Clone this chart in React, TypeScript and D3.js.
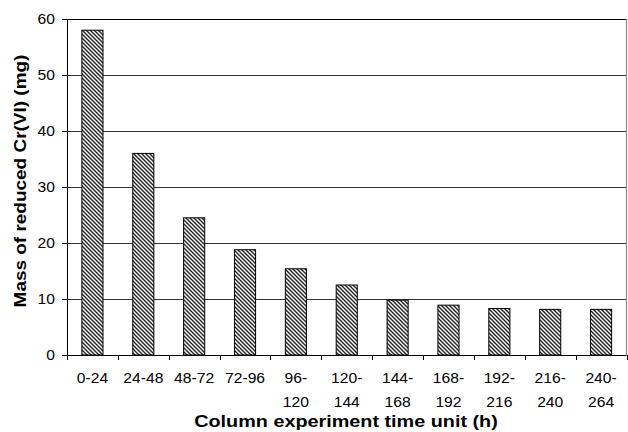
import React from "react";
import * as d3 from "d3";

const categories: string[][] = [
  ["0-24"], ["24-48"], ["48-72"], ["72-96"], ["96-", "120"], ["120-", "144"],
  ["144-", "168"], ["168-", "192"], ["192-", "216"], ["216-", "240"], ["240-", "264"],
];
const values: number[] = [58, 36, 24.5, 18.8, 15.4, 12.5, 9.8, 8.9, 8.3, 8.15, 8.15];
const yTicks: number[] = [0, 10, 20, 30, 40, 50, 60];
const xTitle = "Column experiment time unit (h)";
const yTitle = "Mass of reduced Cr(VI) (mg)";

const W = 628, H = 432;
const left = 67, right = 626.5, top = 19, bottom = 355;
const FONT = "'Liberation Sans', Arial, sans-serif";
const SX = 1.12;

export default function App() {
  const keys = categories.map((c) => c.join(""));
  const x = d3.scaleBand<string>().domain(keys).range([left, right])
    .paddingInner(0.585).paddingOuter(0.2925);
  const y = d3.scaleLinear().domain([0, 60]).range([bottom, top]);
  const step = x.step();
  const bounds = d3.range(keys.length + 1).map((i) => left + i * step);

  return (
    <svg width={W} height={H} style={{ position: "absolute", left: 0, top: 0, background: "#fff" }}>
      <defs>
        <pattern id="hatch" patternUnits="userSpaceOnUse" width={4} height={4}>
          <rect width={4} height={4} fill="#fff" />
          <path d="M-1,-1 L5,5 M-1,3 L1,5 M3,-1 L5,1" stroke="#222" strokeWidth={1.4} />
        </pattern>
      </defs>
      {yTicks.filter((t) => t > 0 && t < 60).map((t) => (
        <line key={"g" + t} x1={left} x2={right} y1={Math.round(y(t)) + 0.5} y2={Math.round(y(t)) + 0.5} stroke="#333" strokeWidth={1} />
      ))}
      <line x1={left} x2={right} y1={Math.round(y(60)) + 0.5} y2={Math.round(y(60)) + 0.5} stroke="#000" strokeWidth={1} />
      <line x1={right} x2={right} y1={y(60)} y2={y(0)} stroke="#888" strokeWidth={1.2} />
      {values.map((v, i) => (
        <rect key={i} x={x(keys[i])!} y={y(v)} width={x.bandwidth()} height={y(0) - y(v)}
          fill="url(#hatch)" stroke="#000" strokeWidth={1} />
      ))}
      <line x1={left + 0.5} x2={left + 0.5} y1={y(60)} y2={y(0)} stroke="#000" strokeWidth={1} />
      <line x1={left} x2={right} y1={Math.round(y(0)) + 0.5} y2={Math.round(y(0)) + 0.5} stroke="#000" strokeWidth={1} />
      {yTicks.map((t) => (
        <g key={"yt" + t}>
          <line x1={left - 5} x2={left} y1={Math.round(y(t)) + 0.5} y2={Math.round(y(t)) + 0.5} stroke="#000" />
          <text transform={`translate(55,${y(t)}) scale(${SX},1)`} textAnchor="end" dominantBaseline="central"
            fontFamily={FONT} fontSize={14} fill="#000">{t}</text>
        </g>
      ))}
      {bounds.map((b, i) => (
        <line key={"xt" + i} x1={Math.round(b) + 0.5} x2={Math.round(b) + 0.5} y1={bottom} y2={bottom + 5} stroke="#000" />
      ))}
      {categories.map((lines, i) => (
        <g key={"xl" + i}>
          {lines.map((s, j) => (
            <text key={j} transform={`translate(${x(keys[i])! + x.bandwidth() / 2},${378 + j * 24}) scale(${SX},1)`}
              textAnchor="middle" dominantBaseline="central" fontFamily={FONT} fontSize={14} fill="#000">{s}</text>
          ))}
        </g>
      ))}
      <text transform={`translate(346,421.5) scale(1.2,1)`} textAnchor="middle" dominantBaseline="central"
        fontFamily={FONT} fontSize={16.5} fontWeight="bold" fill="#000">{xTitle}</text>
      <text transform={`translate(20.5,181) rotate(-90) scale(1.15,1)`} textAnchor="middle" dominantBaseline="central"
        fontFamily={FONT} fontSize={16.5} fontWeight="bold" fill="#000">{yTitle}</text>
    </svg>
  );
}
